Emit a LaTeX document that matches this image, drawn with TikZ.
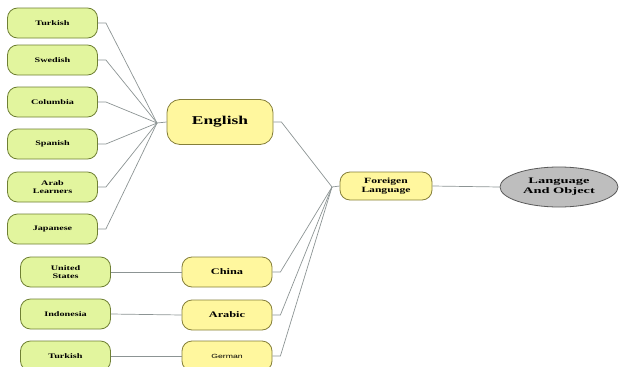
\documentclass[tikz,border=0pt]{standalone}
\usepackage{fontspec}
\usetikzlibrary{shapes.geometric}
\setmainfont{Liberation Serif}[FakeStretch=1.45]
\setsansfont{Liberation Sans}[FakeStretch=1.45]
\newfontfamily\widefont{Liberation Serif}[FakeStretch=1.7]
\definecolor{leafgreen}{HTML}{E2F59E}
\definecolor{leafedge}{HTML}{6F8034}
\definecolor{midyellow}{HTML}{FFF79E}
\definecolor{midedge}{HTML}{857F3A}
\definecolor{rootgray}{HTML}{BEBEBE}
\definecolor{linkgray}{HTML}{8C9494}
\begin{document}
\begin{tikzpicture}[x=1pt,y=-1pt,
    leaf/.style={draw=leafedge,fill=leafgreen,line width=0.8pt,rounded corners=10pt,
      minimum width=90pt,minimum height=30pt,inner sep=0pt,align=center,
      font=\fontsize{7}{8.5}\selectfont\bfseries},
    mid/.style={draw=midedge,fill=midyellow,line width=0.8pt,rounded corners=10pt,
      minimum width=90pt,minimum height=30pt,inner sep=0pt,align=center,
      font=\fontsize{8.5}{9}\selectfont\bfseries},
    link/.style={draw=linkgray,line width=0.7pt}]
	\useasboundingbox (0,0) rectangle (627,367);
	% nhánh English
	\node[mid,minimum width=106pt,minimum height=45pt,rounded corners=13pt,
	  font=\fontsize{12}{12}\selectfont\bfseries] (english) at (220,122) {English};
	\coordinate (hubE) at (157,123);
	\draw[link] (hubE) -- (english.west);
	\foreach \n/\y/\t in {1/23/Turkish,2/60/Swedish,3/102/Columbia,4/144/Spanish,
	    5/187/{Arab\\Learners},6/229/Japanese} {
		\node[leaf] (left\n) at (52.5,\y) {\t};
		\draw[link] (left\n.east) -- ++(8,0) -- (hubE);
	}
	% nút giữa và gốc
	\node[mid,minimum width=92pt,minimum height=28pt,
	  font=\fontsize{8}{9}\selectfont\bfseries] (foreign) at (386,186) {Foreigen\\Language};
	\node[draw=black!65,fill=rootgray,line width=0.8pt,ellipse,minimum width=118pt,
	  minimum height=40pt,inner sep=0pt,align=center,
	  font=\widefont\fontsize{8.5}{10}\selectfont\bfseries] (root) at (559,187) {Language\\And Object};
	\coordinate (hubF) at (332,187);
	\draw[link] (hubF) -- (foreign.west);
	\draw[link] (foreign.east) -- (root.west);
	\draw[link] (english.east) -- ++(8,0) -- (hubF);
	% nhánh dưới
	\node[mid] (china) at (227,272) {China};
	\node[mid] (arabic) at (227,315) {Arabic};
	\node[mid,font=\fontsize{6}{6}\selectfont\sffamily] (german) at (227,356) {German};
	\node[leaf] (us) at (65.5,272) {United\\States};
	\node[leaf] (indo) at (65.5,314) {Indonesia};
	\node[leaf] (turk) at (65.5,356) {Turkish};
	\foreach \a/\b in {us/china,indo/arabic,turk/german} {
		\draw[link] (\a.east) -- (\b.west);
		\draw[link] (\b.east) -- ++(8,0) -- (hubF);
	}
\end{tikzpicture}
\end{document}
